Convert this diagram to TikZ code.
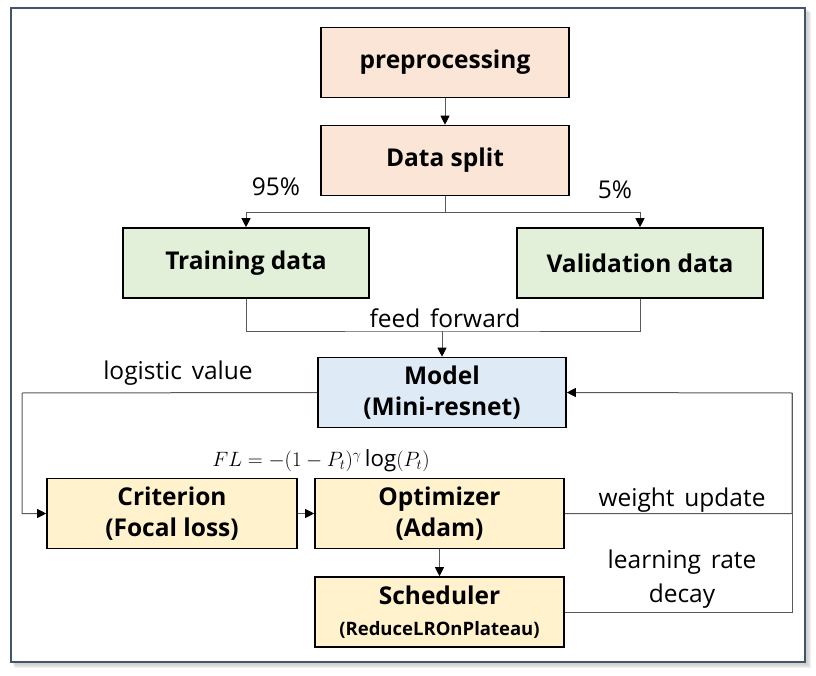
\documentclass[tikz,border=0pt]{standalone}
\usepackage{fontspec}
\setmainfont{Open Sans}
\usetikzlibrary{arrows.meta}
\definecolor{frameC}{HTML}{44546A}
\definecolor{orangeF}{HTML}{FBE5D6}
\definecolor{greenF}{HTML}{E2F0D9}
\definecolor{blueF}{HTML}{DEEBF7}
\definecolor{yellowF}{HTML}{FFF2CC}
\definecolor{lineC}{HTML}{595959}
\newcommand{\wideSp}{\spaceskip=0.4em\relax}
\begin{document}
\begin{tikzpicture}[x=1pt,y=-1pt,
  box/.style={draw=black,line width=1.6pt,minimum width=248pt,minimum height=70pt,inner sep=0pt,align=center,font=\fontsize{24.5}{31}\selectfont\bfseries},
  conn/.style={draw=lineC,line width=1pt},
  arr/.style={conn,-{Triangle[length=9pt,width=9pt,fill=black,color=black]}},
  lbl/.style={font=\fontsize{24.5}{27}\selectfont\wideSp,inner sep=0pt}]
\useasboundingbox (0,0) rectangle (816,676);
% shadow
\foreach \i in {6,5,4,3,2}{
  \fill[black,opacity=0.02*\i/2] (11+\i*0.6,8+\i*0.6) rectangle (805+\i,662+\i);
}
\fill[white] (11,8) rectangle (805,662);
\draw[frameC,line width=2.2pt] (11,8) rectangle (805,662);
% boxes
\node[box,fill=orangeF] (pre) at (445,62.5) {preprocessing};
\node[box,fill=orangeF] (split) at (445,160.5) {Data split};
\node[box,fill=greenF,minimum width=246pt] (train) at (246,263) {Training data};
\node[box,fill=greenF,minimum width=246pt] (val) at (640,263) {Validation data};
\node[box,fill=blueF] (model) at (442,392.5) {Model\\(Mini-resnet)};
\node[box,fill=yellowF,minimum width=250pt] (crit) at (172,513.5) {Criterion\\(Focal loss)};
\node[box,fill=yellowF,minimum width=249pt] (opt) at (439.5,513.5) {Optimizer\\(Adam)};
\node[box,fill=yellowF,minimum width=249pt] (sched) at (439.5,612) {Scheduler\\{\fontsize{18.5}{24}\selectfont(ReduceLROnPlateau)}};
% coordinates
\coordinate (sb) at (445,213);
\coordinate (ff) at (442,331);
\coordinate (lv) at (22,393);
\coordinate (rv) at (792,393);
% connectors
\draw[arr] (pre) -- (split);
\draw[conn] (split.south) -- (sb);
\draw[arr] (sb) -| (train.north);
\draw[arr] (sb) -| (val.north);
\draw[conn] (train.south) |- (ff) -| (val.south);
\draw[arr] (ff) -- (model.north);
\draw[arr] (model.west) -- (lv) |- (crit.west);
\draw[arr] (crit) -- (opt);
\draw[arr] (opt) -- (sched);
\draw[arr] (opt.east) -| (rv) -- (model.east);
\draw[conn] (sched.east) -| (rv);
% labels
\node[lbl] (l95) at (276,187) {95\%};
\node[lbl] (l5) at (615,190) {5\%};
\node[lbl] (lff) at (445,318) {feed forward};
\node[lbl] (llv) at (178,373) {logistic value};
\node[lbl] (lwu) at (682,500) {weight update};
\node[lbl,align=center,font=\fontsize{24.5}{34}\selectfont\wideSp] (llr) at (682,579) {learning rate\\decay};
\node[inner sep=0pt,font=\fontsize{22.3}{24}\selectfont] (fl) at (321,461) {$FL=-(1-P_t)^{\gamma}\log(P_t)$};
\end{tikzpicture}
\end{document}
